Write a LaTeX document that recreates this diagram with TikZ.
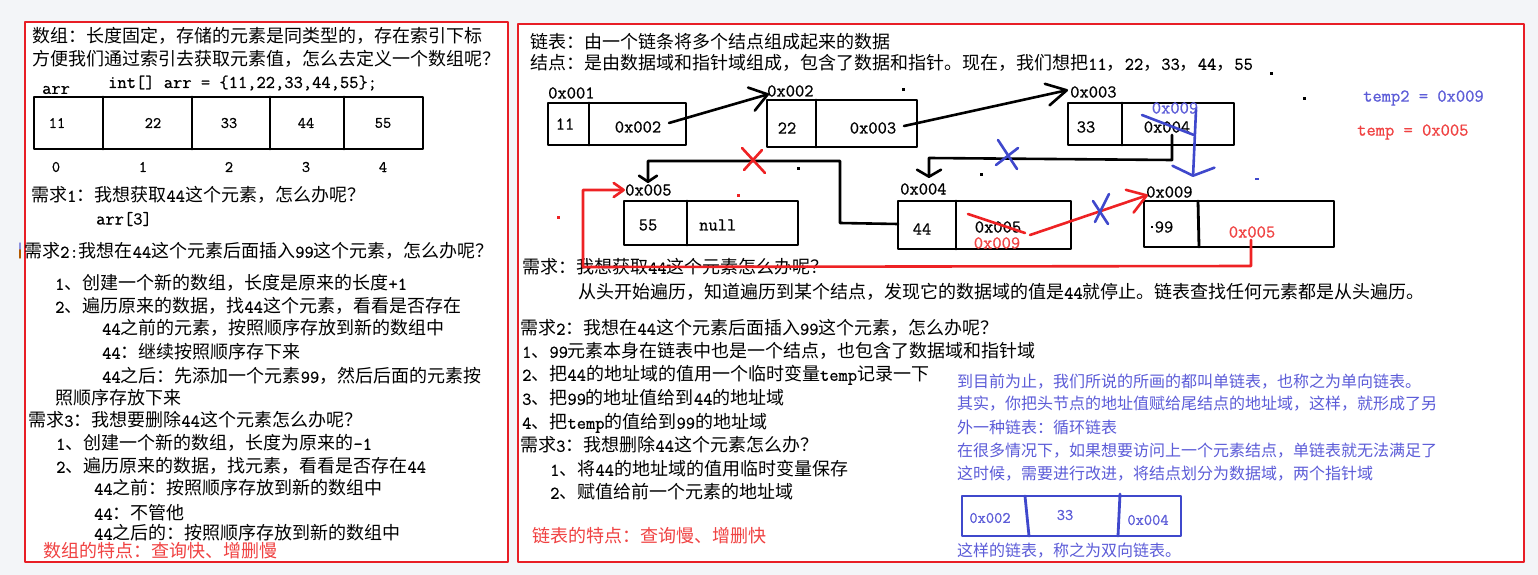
\documentclass[tikz,border=0pt]{standalone}
\usepackage{fontspec}
\setmainfont{Noto Sans CJK SC}
\setmonofont{Latin Modern Mono}[FakeBold=0.8]
\usetikzlibrary{arrows.meta}
\definecolor{pred}{RGB}{232,30,38}
\definecolor{lred}{RGB}{238,34,36}
\definecolor{tred}{RGB}{240,66,66}
\definecolor{pblue}{RGB}{63,72,204}
\definecolor{tblue}{RGB}{92,92,216}
\definecolor{bgc}{RGB}{243,245,248}
\newcommand\lt[1]{{\ttfamily #1}}
\begin{document}
\begin{tikzpicture}[x=1pt,y=-1pt,line cap=round,line join=round,
 txt/.style={anchor=west,inner sep=0pt,font=\fontsize{18}{22}\selectfont,text height=15.8pt,text depth=2.2pt},
 btxt/.style={anchor=west,inner sep=0pt,font=\fontsize{16}{20}\selectfont,text height=14pt,text depth=2pt,text=tblue},
 mono/.style={inner sep=0pt,font=\ttfamily\fontsize{18}{22}\selectfont},
 monos/.style={inner sep=0pt,font=\ttfamily\fontsize{16}{20}\selectfont},
 box/.style={draw,line width=2.8pt,inner sep=0pt,outer sep=0pt},
 hand/.style={line width=2.6pt},
 dotm/.style={fill,draw=none,inner sep=0pt,minimum size=3pt},
]
% background and panels
\fill[bgc] (0,0) rectangle (1538,575);
\draw[pred,line width=2.8pt,fill=white] (25,22) rectangle (508,562);
\draw[pred,line width=2.8pt,fill=white] (518,24) rectangle (1524,562);
\draw[orange!70!black,line width=1.4pt] (20,249) -- (20,258);
\draw[pblue!60,line width=1.4pt] (20,243) -- (20,249);

% ---------------- left panel ----------------
\node[txt] (l1) at (32,36) {数组：长度固定，存储的元素是同类型的，存在索引下标};
\node[txt] (l2) at (32,59) {方便我们通过索引去获取元素值，怎么去定义一个数组呢？};
\node[mono,anchor=west] (code) at (108,83) {int[] arr = \{11,22,33,44,55\};};
\node[mono,anchor=west] (arrl) at (42,90) {arr};
\node[box,minimum width=389pt,minimum height=52pt] (arr) at (228.5,123) {};
\foreach \x in {103,192,270,344} \draw[line width=2.8pt] (\x,97) -- (\x,149);
\node[monos] (e0) at (57,123) {11};
\node[monos] (e1) at (153,123) {22};
\node[monos] (e2) at (229,123) {33};
\node[monos] (e3) at (306,123) {44};
\node[monos] (e4) at (383,123) {55};
\node[monos] (i0) at (56,167) {0};
\node[monos] (i1) at (143,167) {1};
\node[monos] (i2) at (229,167) {2};
\node[monos] (i3) at (306,167) {3};
\node[monos] (i4) at (383,167) {4};
\node[txt] (q1) at (31,195) {需求\lt{1}：我想获取\lt{44}这个元素，怎么办呢？};
\node[mono,anchor=west] (q1a) at (96,219) {arr[3]};
\node[txt] (q2) at (24,251) {需求\lt{2:}我想在\lt{44}这个元素后面插入\lt{99}这个元素，怎么办呢？};
\node[txt] (q2a) at (55,283) {\lt{1}、创建一个新的数组，长度是原来的长度\lt{+1}};
\node[txt] (q2b) at (55,306) {\lt{2}、遍历原来的数据，找\lt{44}这个元素，看看是否存在};
\node[txt] (q2c) at (102,328) {\lt{44}之前的元素，按照顺序存放到新的数组中};
\node[txt] (q2d) at (102,352) {\lt{44}：继续按照顺序存下来};
\node[txt] (q2e) at (102,376) {\lt{44}之后：先添加一个元素\lt{99}，然后后面的元素按};
\node[txt] (q2f) at (55,398) {照顺序存放下来};
\node[txt] (q3) at (28,420) {需求\lt{3}：我想要删除\lt{44}这个元素怎么办呢？};
\node[txt] (q3a) at (56,443) {\lt{1}、创建一个新的数组，长度为原来的\lt{-1}};
\node[txt] (q3b) at (56,466) {\lt{2}、遍历原来的数据，找元素，看看是否存在\lt{44}};
\node[txt] (q3c) at (94,488) {\lt{44}之前：按照顺序存放到新的数组中};
\node[txt] (q3d) at (94,513) {\lt{44}：不管他};
\node[txt] (q3e) at (94,533) {\lt{44}之后的：按照顺序存放到新的数组中};
\node[txt,text=tred] (lf) at (43,551) {数组的特点：查询快、增删慢};

% ---------------- right panel texts ----------------
\node[txt] (r1) at (530,42) {链表：由一个链条将多个结点组成起来的数据};
\node[txt] (r2) at (530,63) {结点：是由数据域和指针域组成，包含了数据和指针。现在，我们想把\lt{11}，\lt{22}，\lt{33}，\lt{44}，\lt{55}};
\node[txt] (r3) at (522,267) {需求：我想获取\lt{44}这个元素怎么办呢？};
\node[txt] (r4) at (578,292) {从头开始遍历，知道遍历到某个结点，发现它的数据域的值是\lt{44}就停止。链表查找任何元素都是从头遍历。};
\node[txt] (r5) at (520,328) {需求\lt{2}：我想在\lt{44}这个元素后面插入\lt{99}这个元素，怎么办呢？};
\node[txt] (r6) at (522,351) {\lt{1}、\lt{99}元素本身在链表中也是一个结点，也包含了数据域和指针域};
\node[txt] (r7) at (522,374) {\lt{2}、把\lt{44}的地址域的值用一个临时变量\lt{temp}记录一下};
\node[txt] (r8) at (522,398) {\lt{3}、把\lt{99}的地址值给到\lt{44}的地址域};
\node[txt] (r9) at (522,422) {\lt{4}、把\lt{temp}的值给到\lt{99}的地址域};
\node[txt] (r10) at (520,445) {需求\lt{3}：我想删除\lt{44}这个元素怎么办？};
\node[txt] (r11) at (550,469) {\lt{1}、将\lt{44}的地址域的值用临时变量保存};
\node[txt] (r12) at (550,492) {\lt{2}、赋值给前一个元素的地址域};
\node[txt,text=tred] (r13) at (532,536) {链表的特点：查询慢、增删快};

\node[btxt] (bt1) at (957,381) {到目前为止，我们所说的所画的都叫单链表，也称之为单向链表。};
\node[btxt] (bt2) at (957,403) {其实，你把头节点的地址值赋给尾结点的地址域，这样，就形成了另};
\node[btxt] (bt3) at (957,427) {外一种链表：循环链表};
\node[btxt] (bt4) at (957,450) {在很多情况下，如果想要访问上一个元素结点，单链表就无法满足了};
\node[btxt] (bt5) at (957,473) {这时候，需要进行改进，将结点划分为数据域，两个指针域};
\node[btxt] (bt6) at (957,550) {这样的链表，称之为双向链表。};

\node[mono,anchor=west,text=tblue] (t2) at (1363,98) {temp2 = 0x009};
\node[mono,anchor=west,text=tred] (t1) at (1357,132) {temp = 0x005};

% ---------------- linked list nodes ----------------
\node[box,minimum width=138pt,minimum height=42pt] (b1) at (617,124) {};
\draw[line width=2.8pt] (589,103) -- (589,145);
\node[box,minimum width=150pt,minimum height=47pt] (b2) at (842,123.5) {};
\draw[line width=2.8pt] (816,100) -- (816,147);
\node[box,minimum width=166pt,minimum height=42pt] (b3) at (1151,124) {};
\draw[line width=2.8pt] (1122,103) -- (1122,145);
\node[box,minimum width=174pt,minimum height=44pt] (b5) at (711,223) {};
\draw[line width=2.8pt] (687,201) -- (687,245);
\node[box,minimum width=173pt,minimum height=48pt] (b4) at (984.5,225) {};
\draw[line width=2.8pt] (956,201) -- (956,249);
\node[box,minimum width=190pt,minimum height=46pt] (b9) at (1239,224) {};
\draw[line width=2.8pt] (1198,201) -- (1199,247);

\node[mono,anchor=west] (a1) at (548,93) {0x001};
\node[mono,anchor=west] (a2) at (767,91) {0x002};
\node[mono,anchor=west] (a3) at (1070,92) {0x003};
\node[mono,anchor=west] (a5) at (625,190) {0x005};
\node[mono,anchor=west] (a4) at (900,189) {0x004};
\node[mono,anchor=west] (a9) at (1146,192) {0x009};

\node[mono] (v1) at (565,124) {11};
\node[mono] (p1) at (638,127) {0x002};
\node[mono] (v2) at (787,128) {22};
\node[mono] (p2) at (873,128) {0x003};
\node[mono] (v3) at (1086,127) {33};
\node[mono] (p3) at (1167,127) {0x004};
\node[mono,text=tblue] (p3b) at (1175,108) {0x009};
\node[mono] (v5) at (648,225) {55};
\node[mono,anchor=west] (p5) at (699,225) {null};
\node[mono] (v4) at (922,229) {44};
\node[mono] (p4) at (998,227) {0x005};
\node[mono,text=tred] (p4b) at (997,243) {0x009};
\node[mono] (v9) at (1164,227) {99};
\node[dotm,minimum size=2.5pt] (d99) at (1152,227) {};
\node[mono,text=tred] (p9) at (1252,232) {0x005};

% small dots
\node[dotm] (d1) at (903,90) {};
\node[dotm] (d2) at (1271,74) {};
\node[dotm] (d3) at (1304,99) {};
\node[dotm] (d4) at (798,168) {};
\node[dotm] (d5) at (981,174) {};
\node[dotm,fill=pblue,minimum width=4pt,minimum height=2.5pt] (d6) at (1257,179) {};
\node[dotm,fill=lred] (d7) at (558,217) {};
\node[dotm,fill=lred] (d8) at (738,195) {};

% coordinates for connectors
\coordinate (s12) at (669,123);
\coordinate (t12) at (769,94);
\coordinate (s23) at (904,126);
\coordinate (t23) at (1068,90);
\coordinate (s34) at (1172,135);
\coordinate (c34a) at (1172,160);
\coordinate (c34b) at (929,158);
\coordinate (t34) at (929,178);
\coordinate (s45) at (898,224);
\coordinate (c45a) at (840,223);
\coordinate (c45b) at (840,161);
\coordinate (c45c) at (648,161);
\coordinate (t45) at (648,183);
\coordinate (s49) at (1030,235);
\coordinate (t49) at (1148,195);
\coordinate (sb) at (1196,110);
\coordinate (tb) at (1193,177);
\coordinate (s95) at (1251,240);
\coordinate (c95a) at (1251,266);
\coordinate (c95b) at (583,267);
\coordinate (c95c) at (583,190);
\coordinate (t95) at (625,190);

% connectors
\draw[hand,-{Straight Barb[length=17pt,width=24pt,round]}] (s12) -- (t12);
\draw[hand,-{Straight Barb[length=20pt,width=22pt,round]}] (s23) -- (t23);
\draw[hand,-{Straight Barb[length=7pt,width=24pt,round]}] (s34) -- (c34a) -- (c34b) -- (t34);
\draw[hand,-{Straight Barb[length=6pt,width=18pt,round]}] (s45) -- (c45a) -- (c45b) -- (c45c) -- (t45);
\draw[hand,lred,-{Straight Barb[length=18pt,width=24pt,round]}] (s49) -- (t49);
\draw[hand,pblue,-{Straight Barb[length=9pt,width=42pt,round]}] (sb) -- (tb);
\draw[hand,lred,-{Straight Barb[length=10pt,width=14pt,round]}] (s95) -- (c95a) -- (c95b) -- (c95c) -- (t95);

% strike-throughs and crosses
\draw[hand,pblue] (1142,115) -- (1194,135);
\draw[hand,lred] (968,214) -- (1025,233);
\draw[hand,lred] (742,148) -- (765,173);
\draw[hand,lred] (762,150) -- (744,170);
\draw[hand,pblue] (998,140) -- (1017,169);
\draw[hand,pblue] (1018,148) -- (996,165);
\draw[hand,pblue] (1109,194) -- (1095,222);
\draw[hand,pblue] (1093,201) -- (1108,224);

% doubly linked node
\draw[pblue,line width=2.8pt] (962,496) rectangle (1181,536);
\draw[pblue,line width=2.8pt] (1025,496) -- (1029,536);
\draw[pblue,line width=2.8pt] (1120,494) -- (1118,536);
\node[monos,text=tblue] (dl) at (990,518) {0x002};
\node[monos,text=tblue] (dm) at (1065,515) {33};
\node[monos,text=tblue] (dr) at (1148,520) {0x004};
\end{tikzpicture}
\end{document}
